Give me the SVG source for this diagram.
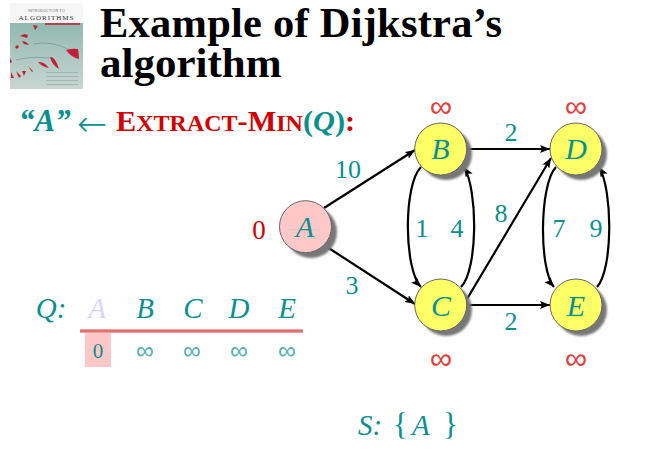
<svg xmlns="http://www.w3.org/2000/svg" width="664" height="469" viewBox="0 0 664 469">
<style>
text{font-family:"Liberation Serif",serif}
.t{fill:#0a8f8f}
.i{font-style:italic}
.r{fill:#d00000}
.n{font-size:30px;text-anchor:middle;font-style:italic;fill:#0a8f8f}
.w{font-size:26px;text-anchor:middle;fill:#0a8f8f}
.inf{font-size:31px;text-anchor:middle;fill:#e04040;font-family:"DejaVu Sans",sans-serif;font-weight:200}
.qi{font-size:25px;text-anchor:middle;fill:#58b0b0;font-family:"DejaVu Sans",sans-serif;font-weight:200}
.q{font-size:29px;text-anchor:middle;font-style:italic;fill:#0a8f8f}
.e{fill:none;stroke:#000;stroke-width:2.2}
.s{fill:#777;filter:url(#b)}
.c{stroke:#666;stroke-width:1}
</style>
<defs>
<marker id="a" viewBox="0 0 10 8" refX="10" refY="4" markerWidth="10" markerHeight="8" markerUnits="userSpaceOnUse" orient="auto"><path d="M0 0L10 4L0 8L2 4Z" fill="#000"/></marker>
<linearGradient id="cov" x1="0" y1="0" x2="0" y2="1"><stop offset="0" stop-color="#7fb0a4"/><stop offset="1" stop-color="#c9d6d2"/></linearGradient>
<filter id="b" x="-20%" y="-20%" width="140%" height="140%"><feGaussianBlur stdDeviation="0.800"/></filter>
</defs>
<g id="cover">
<rect x="10" y="3" width="73" height="86" fill="url(#cov)"/>
<rect x="10" y="3" width="73" height="20" fill="#f6f6f6"/>
<text x="46.500" y="12" font-size="3.500" text-anchor="middle" fill="#666" style="font-family:'Liberation Sans',sans-serif" letter-spacing="0.300">INTRODUCTION TO</text>
<text x="46.500" y="20" font-size="7" text-anchor="middle" fill="#333" letter-spacing="1">ALGORITHMS</text>
<rect x="45" y="23" width="35" height="2" fill="#c23a50"/>
<g fill="#c2203a">
<path d="M33 25L38 26L35 30Z"/><path d="M20 36Q24 33 28 35L27 38Z"/><path d="M22 41Q26 41 29 45L24 44Z"/><circle cx="17" cy="47" r="1.700"/>
<path d="M66 50Q72 48 78 49Q79 55 79 59Q72 58 66 50Z"/><path d="M50 57Q55 56 59 69Q52 65 50 57Z"/><path d="M38 62Q44 61 49 68Q42 67 38 62Z"/><path d="M28 66L33 71L32 72Z"/>
<path d="M11 72L14 78L11 78Z"/><path d="M16 71L21 76L19 78Z"/><path d="M22 71L26 71L24 76Z"/><path d="M10 58L12 62L10 63Z"/>
</g>
<g fill="#9fb5af"><rect x="46" y="72" width="32" height="1"/><rect x="46" y="76" width="32" height="1"/><rect x="46" y="80" width="32" height="1"/><rect x="46" y="84" width="32" height="1"/></g>
<path d="M34 44Q50 40 70 50M16 60Q30 56 50 58" fill="none" stroke="#5c7f78" stroke-width="0.500"/>
</g>
<g id="title" font-weight="bold" fill="#000"><text x="100" y="37" font-size="42.500" textLength="402">Example of Dijkstra’s</text><text x="100" y="77" font-size="43">algorithm</text></g>
<g id="extract" font-weight="bold">
<text x="19" y="131" font-size="31" class="t i">“A”</text>
<text x="77" y="136" font-size="36" class="t" font-weight="200" style="font-family:'DejaVu Sans',sans-serif">←</text>
<text y="131" font-size="30.300"><tspan x="116" class="r">E</tspan><tspan class="r" font-size="24">XTRACT</tspan><tspan class="r">-M</tspan><tspan class="r" font-size="24">IN</tspan><tspan class="t">(</tspan><tspan class="t i">Q</tspan><tspan class="t">)</tspan><tspan class="r">:</tspan></text>
</g>
<g id="connectors">
<path class="e" marker-end="url(#a)" d="M324 208L415 150"/>
<path class="e" marker-end="url(#a)" d="M324 245L415 304"/>
<path class="e" marker-end="url(#a)" d="M467 149L550 149"/>
<path class="e" marker-end="url(#a)" d="M467 305L550 305"/>
<path class="e" marker-end="url(#a)" d="M467 299L551 158"/>
<path class="e" marker-end="url(#a)" d="M421 167C403 185 404 270 421 287"/>
<path class="e" marker-end="url(#a)" d="M461 287C478 270 478 190 464 167"/>
<path class="e" marker-end="url(#a)" d="M556 167C539 185 539 270 554 287"/>
<path class="e" marker-end="url(#a)" d="M597 287C613 270 613 190 599 167"/>
</g>
<g id="node-A"><circle class="s" cx="311" cy="232" r="26"/><circle class="c" cx="305.500" cy="226.700" r="26" fill="#ffc8c8"/><text class="n" x="305" y="237">A</text><text x="259" y="239" font-size="27" text-anchor="middle" fill="#d00000">0</text></g>
<g id="node-B"><circle class="s" cx="446" cy="154" r="26"/><circle class="c" cx="440.700" cy="149" r="26" fill="#ffff66"/><text class="n" x="440.500" y="159">B</text><text class="inf" x="441" y="117">∞</text></g>
<g id="node-C"><circle class="s" cx="446" cy="310" r="26"/><circle class="c" cx="440.700" cy="305" r="26" fill="#ffff66"/><text class="n" x="441" y="316">C</text><text class="inf" x="441" y="369">∞</text></g>
<g id="node-D"><circle class="s" cx="581" cy="154" r="26"/><circle class="c" cx="576" cy="149" r="26" fill="#ffff66"/><text class="n" x="576" y="159">D</text><text class="inf" x="576" y="117">∞</text></g>
<g id="node-E"><circle class="s" cx="581" cy="310" r="26"/><circle class="c" cx="576" cy="305" r="26" fill="#ffff66"/><text class="n" x="576" y="316">E</text><text class="inf" x="576" y="369">∞</text></g>
<g id="weights">
<text class="w" x="348" y="178">10</text><text class="w" x="352" y="294">3</text>
<text class="w" x="511" y="141">2</text><text class="w" x="511" y="330">2</text>
<text class="w" x="422" y="237">1</text><text class="w" x="457" y="237">4</text>
<text class="w" x="501" y="222">8</text><text class="w" x="559" y="237">7</text><text class="w" x="596" y="237">9</text>
</g>
<g id="queue">
<text class="q" x="51" y="318">Q:</text>
<text class="q" x="97" y="318" style="fill:#d8d8ff">A</text>
<text class="q" x="145" y="318">B</text>
<text class="q" x="193" y="318">C</text>
<text class="q" x="239" y="318">D</text>
<text class="q" x="287" y="318">E</text>
<rect x="85" y="333" width="26" height="34" fill="#ffc8c8"/>
<rect x="80" y="329" width="223" height="4" fill="#f0a0a0"/>
<rect x="80" y="330" width="223" height="2" fill="#e07070"/>
<text x="98" y="358" font-size="21" text-anchor="middle" fill="#0a8f8f">0</text>
<text class="qi" x="145" y="359">∞</text><text class="qi" x="192" y="359">∞</text><text class="qi" x="239" y="359">∞</text><text class="qi" x="287" y="359">∞</text>
</g>
<g id="set"><text class="t i" x="358" y="435" font-size="29">S:</text><text class="t" x="393" y="435" font-size="31" font-weight="normal">{</text><text class="t i" x="412" y="435" font-size="29">A</text><text class="t" x="443" y="435" font-size="31">}</text></g>
</svg>
